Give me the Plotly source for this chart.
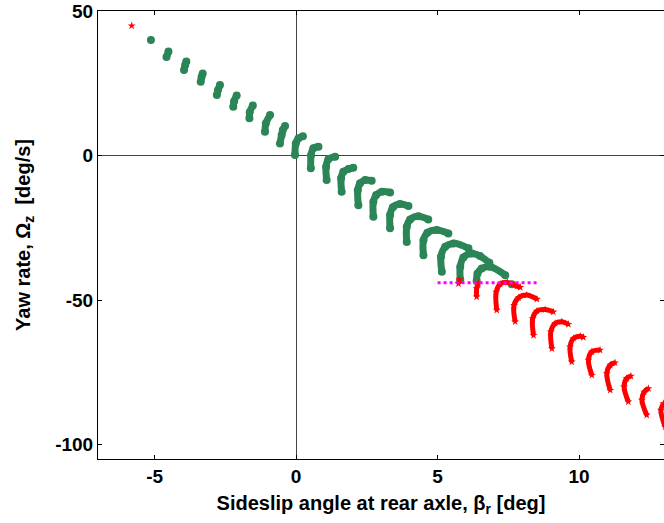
import plotly.graph_objects as go

# green points (stable region), one list per arc
green_x = [
    [-5.13],
    [-4.58, -4.51],
    [-3.96, -3.92, -3.88],
    [-3.37, -3.34, -3.30],
    [-2.80, -2.76, -2.69],
    [-2.22, -2.19, -2.10],
    [-1.65, -1.64, -1.53],
    [-1.10, -1.07, -0.92],
    [-0.57, -0.51, -0.47, -0.39],
    [-0.04, -0.01, 0.08, 0.24],
    [0.52, 0.53, 0.61, 0.79],
    [1.08, 1.06, 1.14, 1.38],
    [1.61, 1.59, 1.67, 1.85, 2.02],
    [2.20, 2.18, 2.26, 2.44, 2.67],
    [2.73, 2.73, 2.83, 3.03, 3.32],
    [3.32, 3.32, 3.42, 3.67, 3.97],
    [3.91, 3.91, 4.03, 4.32, 4.67],
    [4.50, 4.50, 4.64, 4.97, 5.38],
    [5.15, 5.12, 5.27, 5.56, 6.09],
    [5.80, 5.80, 5.91, 6.21, 6.50, 6.83],
    [6.38, 6.41, 6.56, 6.86, 7.39],
    [7.62],
]
green_y = [
    [40.0],
    [34.1, 36.0],
    [29.6, 31.3, 32.5],
    [25.5, 27.2, 28.4],
    [20.9, 22.7, 24.4],
    [16.9, 18.8, 20.8],
    [12.9, 15.0, 17.3],
    [8.2, 11.1, 14.0],
    [4.2, 7.1, 8.8, 10.2],
    [0.2, 4.2, 5.9, 6.7],
    [-4.4, 0.2, 2.5, 3.0],
    [-8.5, -3.9, -1.3, -0.4],
    [-12.5, -7.9, -5.6, -4.7, -4.2],
    [-17.2, -12.0, -9.6, -8.5, -8.7],
    [-21.2, -16.0, -13.7, -12.5, -12.8],
    [-25.2, -20.6, -17.9, -16.8, -17.5],
    [-29.9, -24.7, -22.1, -21.0, -22.1],
    [-34.5, -29.3, -26.7, -25.8, -27.0],
    [-40.2, -35.0, -31.6, -30.4, -32.1],
    [-42.9, -38.5, -35.3, -33.9, -34.8, -37.1],
    [-43.4, -40.8, -39.1, -38.5, -41.4],
    [-44.5],
]

# red stars (unstable region)
red_x = [
    [-5.81],
    [5.77, 5.74],
    [6.38, 6.38, 6.44],
    [7.09, 7.07, 7.21, 7.47, 7.80, 7.92],
    [7.74, 7.70, 7.86, 8.15, 8.51],
    [8.39, 8.36, 8.51, 8.80, 9.09],
    [9.04, 9.00, 9.15, 9.39, 9.62],
    [9.74, 9.68, 9.80, 10.04, 10.15],
    [10.45, 10.33, 10.45, 10.74],
    [11.10, 10.98, 11.10, 11.27],
    [11.74, 11.59, 11.68, 11.83],
    [12.39, 12.22, 12.30, 12.45],
    [13.04, 12.89, 12.98],
]
red_y = [
    [44.9],
    [-42.9, -44.3],
    [-48.9, -46.0, -44.3],
    [-53.5, -47.2, -44.5, -43.9, -45.2, -45.6],
    [-57.5, -51.8, -49.2, -48.3, -49.7],
    [-62.2, -56.4, -53.8, -53.3, -54.1],
    [-66.8, -61.0, -58.1, -57.5, -58.4],
    [-71.4, -66.2, -63.3, -62.5, -62.9],
    [-76.0, -70.8, -67.9, -67.3],
    [-81.2, -75.4, -72.5, -71.7],
    [-85.2, -80.0, -77.1, -76.3],
    [-89.8, -84.6, -81.8, -80.6],
    [-93.9, -88.1, -85.8],
]

limit_x = [5.0, 8.5]
limit_y = [-44, -44]

x_ticks = [-5, 0, 5, 10]
y_ticks = [-100, -50, 0, 50]


def join_arcs(xs, ys):
    ox, oy = [], []
    for a, b in zip(xs, ys):
        ox += a + [None]
        oy += b + [None]
    return ox, oy


gx, gy = join_arcs(green_x, green_y)
rx, ry = join_arcs(red_x, red_y)

fig = go.Figure()
fig.add_trace(go.Scatter(x=gx, y=gy, mode="lines+markers",
                         line=dict(color="#2b8556", width=7, shape="spline"),
                         marker=dict(color="#2b8556", size=8), connectgaps=False))
fig.add_trace(go.Scatter(x=rx, y=ry, mode="lines+markers",
                         line=dict(color="#ff0000", width=5, shape="spline"),
                         marker=dict(color="#ff0000", size=6, symbol="star"), connectgaps=False))
fig.add_trace(go.Scatter(x=limit_x, y=limit_y, mode="lines",
                         line=dict(color="#ff00ff", width=3, dash="dot")))

axis_font = dict(family="Liberation Sans, Arial, sans-serif", size=19, color="black")
fig.update_xaxes(range=[-7, 13], tickvals=x_ticks, ticktext=[f"<b>{v}</b>" for v in x_ticks],
                 ticks="inside", ticklen=4, tickcolor="black", showline=True, linecolor="black",
                 linewidth=1, mirror="ticks", showgrid=False, zeroline=True, zerolinecolor="#444",
                 zerolinewidth=1, tickfont=axis_font,
                 title=dict(text="<b>Sideslip angle at rear axle, β<sub>r</sub> [deg]</b>",
                            font=dict(family="Liberation Sans, Arial, sans-serif", size=20, color="black"),
                            standoff=10))
fig.update_yaxes(range=[-105, 50], tickvals=y_ticks, ticktext=[f"<b>{v}</b>" for v in y_ticks],
                 ticks="inside", ticklen=4, tickcolor="black", showline=True, linecolor="black",
                 linewidth=1, mirror="ticks", showgrid=False, zeroline=True, zerolinecolor="#444",
                 zerolinewidth=1, tickfont=axis_font,
                 title=dict(text="<b>Yaw rate, Ω<sub>z</sub>  [deg/s]</b>",
                            font=dict(family="Liberation Sans, Arial, sans-serif", size=20, color="black"),
                            standoff=19))
fig.update_layout(width=664, height=523, showlegend=False,
                  margin=dict(l=98, r=0, t=11, b=64),
                  plot_bgcolor="white", paper_bgcolor="white")

# page body margin would shift the figure by 8px
fig.write_html("out.html", config={"displayModeBar": False},
               post_script="document.body.style.margin='0';")
